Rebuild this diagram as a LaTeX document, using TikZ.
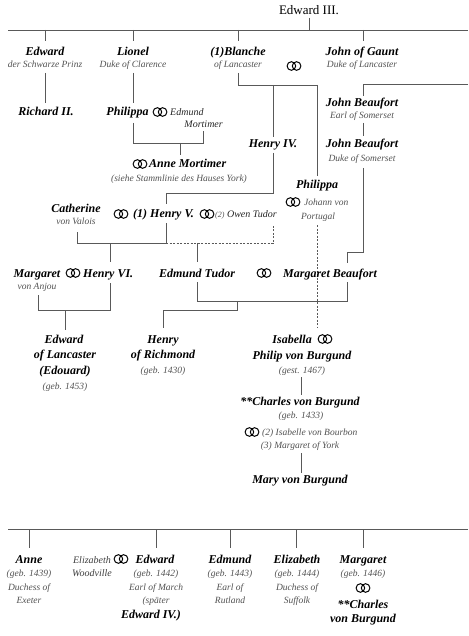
\documentclass[tikz,border=0pt]{standalone}
\usepackage{fontspec}
\setmainfont{Liberation Serif}
\newsavebox\ringbox
\sbox\ringbox{\tikz{\draw[line width=1pt] (0,0) ellipse (4.3pt and 4.3pt) (5.2pt,0) ellipse (4.3pt and 4.3pt);}}
\begin{document}
\begin{tikzpicture}[x=1pt,y=-1pt,
  nm/.style={font=\fontsize{12}{14}\selectfont\bfseries\itshape, text=black, inner sep=0pt, anchor=base},
  sb/.style={font=\fontsize{9.5}{12}\selectfont\itshape, text=black!68, inner sep=0pt, anchor=base},
  sm/.style={font=\fontsize{10}{12}\selectfont\itshape, text=black!85, inner sep=0pt, anchor=base},
  rg/.style={inner sep=0pt, anchor=center},
  ln/.style={draw=black!65, line width=0.85pt},
  dl/.style={draw=black!65, line width=0.85pt, dash pattern=on 2pt off 1.5pt}]
\useasboundingbox[fill=white] (0,0) rectangle (468,636);

% ---------- top
\node[anchor=base, inner sep=0pt, font=\fontsize{13}{15}\selectfont] (e3) at (309,15) {Edward III.};
\coordinate (t0) at (8,30); \coordinate (t1) at (468,30);
\draw[ln] (t0) -- (t1);
\draw[ln] (309,18) -- (309,30);
\foreach \x in {45,133,238,363} \draw[ln] (\x,30) -- (\x,41);

% ---------- generation 1
\node[nm] (edw) at (45,56) {Edward};
\node[sb] (edws) at (45,68) {der Schwarze Prinz};
\node[nm] (lio) at (133,56) {Lionel};
\node[sb] (lios) at (133,68) {Duke of Clarence};
\node[nm] (bla) at (238,56) {(1)Blanche};
\node[sb] (blas) at (238,68) {of Lancaster};
\node[rg] (r1) at (294,66) {\usebox\ringbox};
\node[nm] (jog) at (362,56) {John of Gaunt};
\node[sb] (jogs) at (362,68) {Duke of Lancaster};

% Edward -> Richard
\draw[ln] (45,73) -- (45,103);
\node[nm] (ric) at (46,116) {Richard II.};

% Lionel -> Philippa
\draw[ln] (133,73) -- (133,103);
\node[nm] (phl) at (127.5,116) {Philippa};
\node[rg] (r2) at (160,112) {\usebox\ringbox};
\node[sm, anchor=base west] (edm1) at (170,116) {Edmund};
\node[sm, anchor=base east] (edm2) at (223,128) {Mortimer};
\draw[ln] (133,123) -- (133,143) -- (203,143) -- (203,131);
\draw[ln] (180,143) -- (180,155);
\node[rg] (r3) at (140,164) {\usebox\ringbox};
\node[nm, anchor=base west] (anm) at (149,168) {Anne Mortimer};
\node[sb] (anms) at (179,182) {(siehe Stammlinie des Hauses York)};

% Blanche -> Henry IV, Philippa
\draw[ln] (238,73) -- (238,85) -- (317,85);
\draw[ln] (273,85) -- (273,137);
\node[nm] (h4) at (273,148) {Henry IV.};
\draw[ln] (273,153) -- (273,193) -- (166,193) -- (166,204);
\draw[ln] (317,85) -- (317,176);
\node[nm] (php) at (317,189) {Philippa};
\node[rg] (r4) at (293,202) {\usebox\ringbox};
\node[sb, anchor=base west] (jvp1) at (304,206) {Johann von};
\node[sb] (jvp2) at (318,219) {Portugal};
\draw[dl] (317,225) -- (317,328);

% John of Gaunt -> Beaufort
\draw[ln] (468,84) -- (363,84) -- (363,96);
\node[nm] (jb1) at (362,107) {John Beaufort};
\node[sb] (jb1s) at (362,119) {Earl of Somerset};
\draw[ln] (363,123) -- (363,136);
\node[nm] (jb2) at (362,148) {John Beaufort};
\node[sb] (jb2s) at (362,162) {Duke of Somerset};
\draw[ln] (363,168) -- (363,252) -- (347,252) -- (347,263);

% Henry V row
\node[nm] (cat) at (76,212) {Catherine};
\node[sb] (cats) at (76,225) {von Valois};
\node[rg] (r5) at (121,214) {\usebox\ringbox};
\node[nm, anchor=base west] (h5) at (133,218) {(1) Henry V.};
\node[rg] (r6) at (207,214) {\usebox\ringbox};
\node[sm, anchor=base west] (owt) at (215,218) {{\fontsize{8}{9}\selectfont\color{black!68}(2)} Owen Tudor};
\draw[ln] (166,223) -- (166,243) -- (77,243) -- (77,232);
\draw[ln] (110,243) -- (110,262);
\draw[dl] (166,243) -- (273,243) -- (273,225);
\draw[ln] (197,243) -- (197,262);

% Henry VI row
\node[nm] (mga) at (37,277) {Margaret};
\node[sb] (mgas) at (37,289) {von Anjou};
\node[rg] (r7) at (73,273) {\usebox\ringbox};
\node[nm, anchor=base west] (h6) at (83,277) {Henry VI.};
\node[nm] (edt) at (197,277) {Edmund Tudor};
\node[rg] (r8) at (264,273) {\usebox\ringbox};
\node[nm, anchor=base west] (mgb) at (283,277) {Margaret Beaufort};

\draw[ln] (110,283) -- (110,310) -- (38,310) -- (38,295);
\draw[ln] (65,310) -- (65,330);
\draw[ln] (197,282) -- (197,301) -- (347,301) -- (347,282);
\draw[ln] (237,301) -- (237,310) -- (163,310) -- (163,328);

% Edward of Lancaster
\node[nm] (eol1) at (64,343) {Edward};
\node[nm] (eol2) at (65,358) {of Lancaster};
\node[nm] (eol3) at (65,374) {(Edouard)};
\node[sb] (eol4) at (65,389) {(geb. 1453)};
% Henry of Richmond
\node[nm] (hor1) at (163,343) {Henry};
\node[nm] (hor2) at (163,358) {of Richmond};
\node[sb] (hor3) at (163,373) {(geb. 1430)};

% Burgund
\node[nm, anchor=base east] (isa) at (312,343) {Isabella};
\node[rg] (r9) at (325,339) {\usebox\ringbox};
\node[nm] (pvb) at (302,359) {Philip von Burgund};
\node[sb] (pvbs) at (302,373) {(gest. 1467)};
\draw[ln] (301,377) -- (301,395);
\node[nm] (cvb) at (300,405) {**Charles von Burgund};
\node[sb] (cvbs) at (301,418) {(geb. 1433)};
\node[rg] (r10) at (252,432) {\usebox\ringbox};
\node[sb, anchor=base west] (ivb) at (262,435) {(2) Isabelle von Bourbon};
\node[sb] (moy) at (300,448) {(3) Margaret of York};
\draw[ln] (301,453) -- (301,473);
\node[nm] (mvb) at (300,483) {Mary von Burgund};

% ---------- bottom
\coordinate (b0) at (8,529); \coordinate (b1) at (468,529);
\draw[ln] (b0) -- (b1);
\foreach \x in {29,156,230,296,363} \draw[ln] (\x,529) -- (\x,548);

\node[nm] (ann) at (29,563) {Anne};
\node[sb] (ann1) at (29,576) {(geb. 1439)};
\node[sb] (ann2) at (29,590) {Duchess of};
\node[sb] (ann3) at (29,603) {Exeter};

\node[sm, text=black!75] (ew1) at (92,563) {Elizabeth};
\node[sm, text=black!75] (ew2) at (92,576) {Woodville};
\node[rg] (r11) at (121,559) {\usebox\ringbox};

\node[nm] (e4a) at (155,563) {Edward};
\node[sb] (e4b) at (156,576) {(geb. 1442)};
\node[sb] (e4c) at (156,590) {Earl of March};
\node[sb] (e4d) at (156,603) {(später};
\node[nm] (e4e) at (151,618) {Edward IV.)};

\node[nm] (edr) at (230,563) {Edmund};
\node[sb] (edr1) at (230,576) {(geb. 1443)};
\node[sb] (edr2) at (230,590) {Earl of};
\node[sb] (edr3) at (230,603) {Rutland};

\node[nm] (els) at (297,563) {Elizabeth};
\node[sb] (els1) at (297,576) {(geb. 1444)};
\node[sb] (els2) at (297,590) {Duchess of};
\node[sb] (els3) at (297,603) {Suffolk};

\node[nm] (mgy) at (363,563) {Margaret};
\node[sb] (mgy1) at (363,576) {(geb. 1446)};
\node[rg] (r12) at (363,588) {\usebox\ringbox};
\node[nm] (mgy2) at (363,608) {**Charles};
\node[nm] (mgy3) at (363,622) {von Burgund};
\end{tikzpicture}
\end{document}
